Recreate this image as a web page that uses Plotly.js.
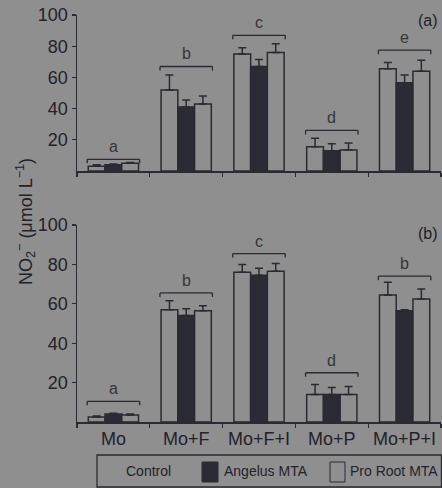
<!DOCTYPE html>
<html><head><meta charset="utf-8">
<script src="https://cdn.plot.ly/plotly-3.0.1.min.js"></script>
<style>html,body{margin:0;padding:0;background:#8f8f8f;}#chart{width:442px;height:488px;}</style>
</head><body><div id="chart"></div>
<script>
const categories = ["Mo", "Mo+F", "Mo+F+I", "Mo+P", "Mo+P+I"];
const seriesNames = ["Control", "Angelus MTA", "Pro Root MTA"];

// Panel (a)
const aControl = [3, 52, 75, 15.5, 65.5];
const aControlErr = [1, 9.5, 4, 5.5, 4];
const aAngelus = [4, 41, 67, 13, 56.5];
const aAngelusErr = [0.5, 4.5, 4.5, 4.5, 5];
const aProRoot = [5, 43, 76, 13.5, 64];
const aProRootErr = [0.5, 5, 5.5, 4.5, 7];
const aBracket = [7.5, 67, 87, 26, 77.5];
const aLetters = ["a", "b", "c", "d", "e"];

// Panel (b)
const bControl = [2.5, 57, 76, 14, 64.5];
const bControlErr = [0.5, 4.5, 4, 5, 6.5];
const bAngelus = [4, 54, 74.5, 14, 56.5];
const bAngelusErr = [0.5, 3.5, 3.5, 3.5, 0.5];
const bProRoot = [3.5, 56.5, 76.5, 14, 62.5];
const bProRootErr = [0.5, 2.5, 4, 4, 5];
const bBracket = [10.5, 65.5, 85.5, 25, 74];
const bLetters = ["a", "b", "c", "d", "b"];

const yTicks = [20, 40, 60, 80, 100];

const BG = '#8f8f8f', INK = '#2a2a32', DARK = '#2b2b36';
const W = 442, H = 488;

function barTrace(name, y, err, xa, ya, dark) {
  return {
    type: 'bar', name: name, x: categories, y: y, xaxis: xa, yaxis: ya,
    showlegend: false,
    marker: {color: dark ? DARK : BG, line: {color: INK, width: 1.5}},
    error_y: {type: 'data', symmetric: false, array: err,
              arrayminus: err.map(() => 0), color: INK, thickness: 1.5, width: 4}
  };
}

const data = [
  barTrace(seriesNames[0], aControl, aControlErr, 'x', 'y', false),
  barTrace(seriesNames[1], aAngelus, aAngelusErr, 'x', 'y', true),
  barTrace(seriesNames[2], aProRoot, aProRootErr, 'x', 'y', false),
  barTrace(seriesNames[0], bControl, bControlErr, 'x2', 'y2', false),
  barTrace(seriesNames[1], bAngelus, bAngelusErr, 'x2', 'y2', true),
  barTrace(seriesNames[2], bProRoot, bProRootErr, 'x2', 'y2', false)
];

const shapes = [];
const annotations = [];
function brackets(ys, letters, xr, yr, drop) {
  ys.forEach((by, i) => {
    const ln = {color: INK, width: 1.3};
    shapes.push({type: 'line', xref: xr, yref: yr, x0: i - 0.36, x1: i + 0.36, y0: by, y1: by, line: ln});
    shapes.push({type: 'line', xref: xr, yref: yr, x0: i - 0.36, x1: i - 0.36, y0: by, y1: by - drop, line: ln});
    shapes.push({type: 'line', xref: xr, yref: yr, x0: i + 0.36, x1: i + 0.36, y0: by, y1: by - drop, line: ln});
    annotations.push({xref: xr, yref: yr, x: i, y: by, text: letters[i], showarrow: false,
      xanchor: 'center', yanchor: 'bottom', yshift: 2, font: {size: 16, color: '#363636'}});
  });
}
brackets(aBracket, aLetters, 'x', 'y', 2.6);
brackets(bBracket, bLetters, 'x2', 'y2', 2.0);

annotations.push({xref: 'paper', yref: 'paper', x: 428 / W, y: 1 - 20 / H, text: '(a)', showarrow: false,
  xanchor: 'center', yanchor: 'middle', font: {size: 16, color: '#1e1e22'}});
annotations.push({xref: 'paper', yref: 'paper', x: 428 / W, y: 1 - 233 / H, text: '(b)', showarrow: false,
  xanchor: 'center', yanchor: 'middle', font: {size: 16, color: '#1e1e22'}});
annotations.push({xref: 'paper', yref: 'paper', x: 25 / W, y: 1 - 222 / H, textangle: -90,
  xanchor: 'center', yanchor: 'middle',
  text: 'NO<sub>2</sub><sup>−</sup> (μmol L<sup>−1</sup>)', showarrow: false,
  font: {size: 18, color: '#22222a'}});

// Legend (drawn)
shapes.push({type: 'rect', xref: 'paper', yref: 'paper', x0: 97 / W, x1: 441.5 / W, y0: 1 - 487 / H, y1: 1 - 455 / H,
  line: {color: INK, width: 1.3}, fillcolor: 'rgba(0,0,0,0)'});
shapes.push({type: 'rect', xref: 'paper', yref: 'paper', x0: 202 / W, x1: 218 / W, y0: 1 - 482 / H, y1: 1 - 462 / H,
  line: {color: INK, width: 1}, fillcolor: DARK});
shapes.push({type: 'rect', xref: 'paper', yref: 'paper', x0: 330 / W, x1: 345 / W, y0: 1 - 482 / H, y1: 1 - 462 / H,
  line: {color: INK, width: 1}, fillcolor: BG});
const legFont = {size: 14, color: '#22222a'};
[[124, 0], [222, 1], [348, 2]].forEach(([px, k]) => {
  annotations.push({xref: 'paper', yref: 'paper', x: px / W, y: 1 - 471 / H, xanchor: 'left', yanchor: 'middle',
    text: seriesNames[k], showarrow: false, font: legFont});
});

const xCommon = {
  type: 'category', range: [-0.5, 4.5], domain: [77 / W, 441 / W],
  showline: true, linecolor: INK, linewidth: 1.5, ticks: 'outside', tickson: 'boundaries',
  ticklen: 4, tickwidth: 1.3, tickcolor: INK, showgrid: false, zeroline: false,
  tickfont: {size: 18, color: '#22222a'}
};
const yCommon = {
  range: [0, 100], showline: true, linecolor: INK, linewidth: 1.5, ticks: 'outside', ticklen: 4,
  tickwidth: 1.3, tickcolor: INK, tickvals: yTicks, showgrid: false, zeroline: false,
  tickfont: {size: 18, color: '#22222a'}
};

const layout = {
  width: W, height: H, margin: {l: 0, r: 0, t: 0, b: 0},
  paper_bgcolor: BG, plot_bgcolor: BG,
  font: {family: 'Liberation Sans, Arial, sans-serif', color: '#22222a'},
  barmode: 'group', bargap: 0.31, bargroupgap: 0,
  showlegend: false,
  xaxis: Object.assign({}, xCommon, {anchor: 'y', showticklabels: false}),
  yaxis: Object.assign({}, yCommon, {anchor: 'x', domain: [1 - 171 / H, 1 - 15 / H]}),
  xaxis2: Object.assign({}, xCommon, {anchor: 'y2', showticklabels: true}),
  yaxis2: Object.assign({}, yCommon, {anchor: 'x2', domain: [1 - 422 / H, 1 - 225 / H]}),
  shapes: shapes, annotations: annotations
};

Plotly.newPlot('chart', data, layout, {staticPlot: true, displayModeBar: false});
</script></body></html>
